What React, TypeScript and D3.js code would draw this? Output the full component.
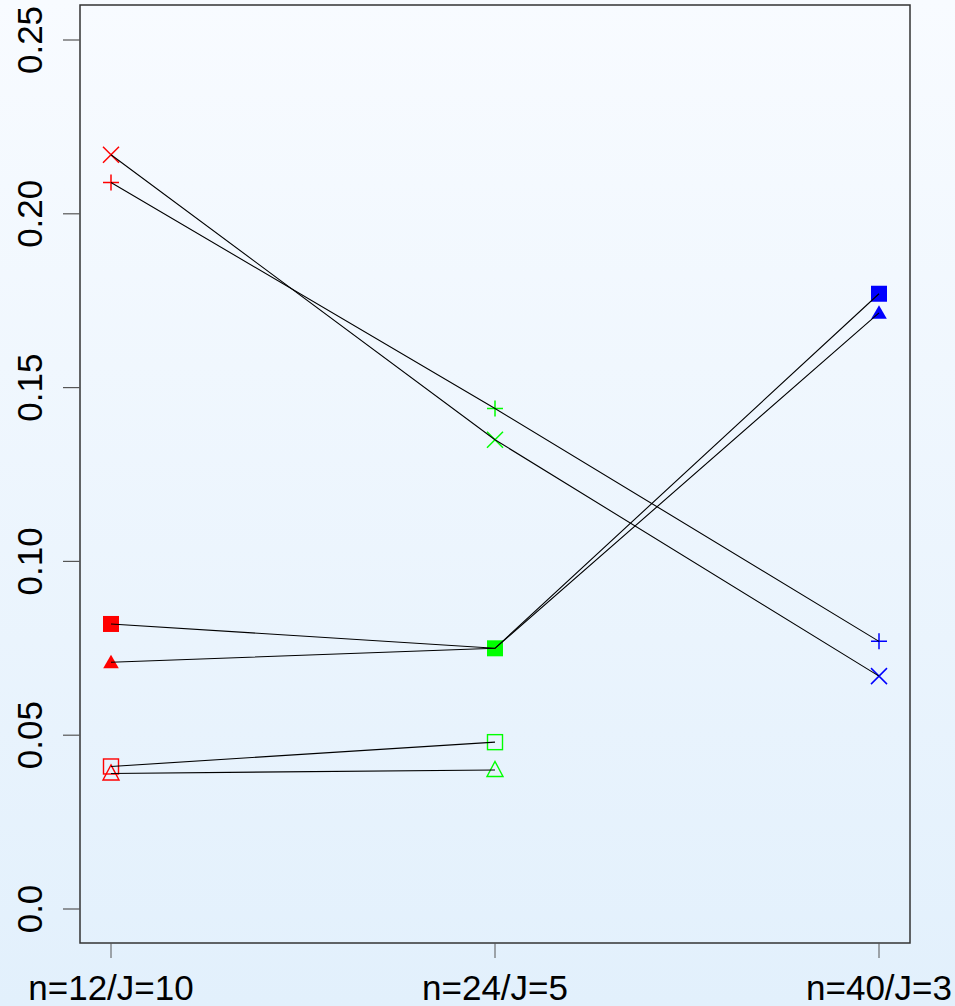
import React from 'react'
import * as d3 from 'd3'

const categories = ['n=12/J=10', 'n=24/J=5', 'n=40/J=3']
const pointColors = ['#ff0000', '#00ff00', '#0000ff']
const yTicks = [0, 0.05, 0.1, 0.15, 0.2, 0.25]

// one array per symbol, null where the design has no value
const plusValues = [0.209, 0.144, 0.077]
const crossValues = [0.217, 0.135, 0.067]
const filledSquareValues = [0.082, 0.075, 0.177]
const filledTriangleValues = [0.071, 0.075, 0.1715]
const openSquareValues = [0.041, 0.048, null]
const openTriangleValues = [0.039, 0.04, null]

const series = [
  { shape: 'fsquare', values: filledSquareValues },
  { shape: 'ftriangle', values: filledTriangleValues },
  { shape: 'osquare', values: openSquareValues },
  { shape: 'otriangle', values: openTriangleValues },
  { shape: 'plus', values: plusValues },
  { shape: 'cross', values: crossValues },
]

const W = 955
const H = 1006
const box = { left: 80, right: 910, top: 5, bottom: 943 }

const Marker = ({ shape, x, y, color }: { shape: string; x: number; y: number; color: string }) => {
  const s = 8
  if (shape === 'fsquare') return <rect x={x - s} y={y - s} width={2 * s} height={2 * s} fill={color} />
  if (shape === 'osquare')
    return <rect x={x - 7.5} y={y - 7.5} width={15} height={15} fill="none" stroke={color} strokeWidth={1.4} />
  if (shape === 'ftriangle') {
    const pts = `${x},${y - 7.5} ${x + 7.8},${y + 6} ${x - 7.8},${y + 6}`
    return <polygon points={pts} fill={color} />
  }
  if (shape === 'otriangle') {
    const pts = `${x},${y - 8.5} ${x + 8},${y + 6.5} ${x - 8},${y + 6.5}`
    return <polygon points={pts} fill="none" stroke={color} strokeWidth={1.4} />
  }
  if (shape === 'plus')
    return (
      <path d={`M${x - 8},${y}H${x + 8}M${x},${y - 8}V${y + 8}`} stroke={color} strokeWidth={1.5} fill="none" />
    )
  return (
    <path
      d={`M${x - 8},${y - 8}L${x + 8},${y + 8}M${x - 8},${y + 8}L${x + 8},${y - 8}`}
      stroke={color}
      strokeWidth={1.5}
      fill="none"
    />
  )
}

const App = () => {
  const xScale = d3.scalePoint().domain(categories).range([111, 879])
  const yScale = d3.scaleLinear().domain([0, 0.25]).range([909, 40])

  const line = d3
    .line<number | null>()
    .defined((d) => d !== null)
    .x((_, i) => xScale(categories[i]) as number)
    .y((d) => yScale(d as number))

  const font = 'Liberation Sans, Arial, Helvetica, sans-serif'

  return (
    <svg width={W} height={H} style={{ position: 'absolute', left: 0, top: 0 }}>
      <defs>
        <linearGradient id="bg" x1="0" y1="0" x2="0" y2="1">
          <stop offset="0" stopColor="#f8fbff" />
          <stop offset="1" stopColor="#e2f0fc" />
        </linearGradient>
      </defs>
      <rect x={0} y={0} width={W} height={H} fill="url(#bg)" />

      {/* points first, lines drawn over them */}
      {series.map((s) =>
        s.values.map((v, i) =>
          v === null ? null : (
            <Marker
              key={s.shape + i}
              shape={s.shape}
              x={xScale(categories[i]) as number}
              y={yScale(v)}
              color={pointColors[i]}
            />
          )
        )
      )}
      {series.map((s) => (
        <path key={s.shape} d={line(s.values) || ''} fill="none" stroke="#000" strokeWidth={1.1} />
      ))}

      <rect
        x={box.left}
        y={box.top}
        width={box.right - box.left}
        height={box.bottom - box.top}
        fill="none"
        stroke="#333"
        strokeWidth={1.5}
      />

      {/* y axis */}
      {yTicks.map((t) => (
        <g key={t}>
          <line x1={63} x2={box.left} y1={yScale(t)} y2={yScale(t)} stroke="#555" strokeWidth={1.2} />
          <text
            transform={`translate(42,${yScale(t)}) rotate(-90)`}
            textAnchor="middle"
            fontFamily={font}
            fontSize={35}
            fill="#000"
          >
            {t === 0 ? '0.0' : t.toFixed(2)}
          </text>
        </g>
      ))}

      {/* x axis */}
      {categories.map((c) => (
        <g key={c}>
          <line
            x1={xScale(c) as number}
            x2={xScale(c) as number}
            y1={box.bottom}
            y2={958}
            stroke="#555"
            strokeWidth={1}
          />
          <text x={xScale(c) as number} y={1000} textAnchor="middle" fontFamily={font} fontSize={35} fill="#000">
            {c}
          </text>
        </g>
      ))}
    </svg>
  )
}

export default App
